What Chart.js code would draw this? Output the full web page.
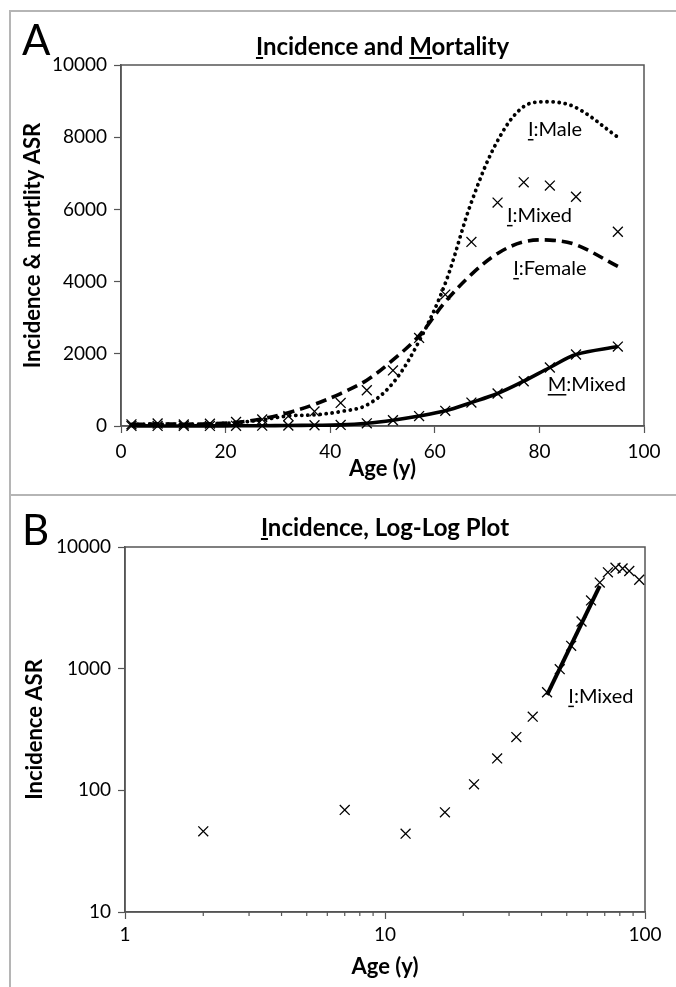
<!DOCTYPE html>
<html>
<head>
<meta charset="utf-8">
<script src="https://cdn.jsdelivr.net/npm/chart.js@4.4.1/dist/chart.umd.min.js"></script>
<style>
  body { margin: 0; background: #fff; }
  #pagina { position: relative; width: 676px; height: 987px; overflow: hidden; font-family: Lato, sans-serif; }
  .linha { position: absolute; background: #b5b5b5; }
  .painel { position: absolute; left: 0; width: 676px; }
  .letra { position: absolute; left: 22px; font-size: 42px; line-height: 1; color: #000; }
</style>
</head>
<body>
<div id="pagina">
  <div class="painel" style="top:0;height:495px"><canvas id="graficoA" width="676" height="495"></canvas></div>
  <div class="painel" style="top:495px;height:492px"><canvas id="graficoB" width="676" height="492"></canvas></div>
  <div class="linha" style="left:9px;top:10px;width:2px;height:977px"></div>
  <div class="linha" style="left:9px;top:10px;width:667px;height:2px"></div>
  <div class="linha" style="left:9px;top:494px;width:667px;height:2px"></div>
  <div class="letra" style="top:18px">A</div>
  <div class="letra" style="top:508px">B</div>
</div>
<script>
// idades (ponto medio das faixas de 5 anos)
const idades = [2, 7, 12, 17, 22, 27, 32, 37, 42, 47, 52, 57, 62, 67, 72, 77, 82, 87, 95];

// incidencia (ambos os sexos) - marcadores x
const incidenciaMista = [46, 69, 44, 66, 112, 183, 274, 403, 640, 990, 1540, 2440, 3640, 5100, 6190, 6750, 6660, 6350, 5380];
// mortalidade (ambos os sexos)
const mortalidadeMista = [3, 2, 2, 3, 5, 8, 14, 20, 30, 75, 160, 275, 420, 650, 900, 1240, 1620, 1980, 2200];
// incidencia masculina
const incidenciaMasc = [40, 55, 40, 60, 95, 170, 280, 310, 400, 580, 1190, 2350, 3950, 6200, 7900, 8850, 8980, 8820, 8000];
// incidencia feminina
const incidenciaFem = [45, 55, 50, 60, 100, 200, 370, 600, 900, 1270, 1830, 2500, 3440, 4200, 4780, 5100, 5150, 5020, 4420];

// reta de ajuste no grafico log-log
const idadesAjuste = [42, 67];
const valoresAjuste = [610, 4800];

// marcas dos eixos
const marcasXA = [0, 20, 40, 60, 80, 100];
const marcasYA = [0, 2000, 4000, 6000, 8000, 10000];
const marcasXB = [1, 2, 3, 4, 5, 6, 7, 8, 9, 10, 20, 30, 40, 50, 60, 70, 80, 90, 100];
const marcasYB = [10, 100, 1000, 10000];
const decadas = [1, 10, 100, 1000, 10000];

const corEixo = "#555";
const fonte = "Lato";

function pontos(xs, ys) {
  let lista = [];
  for (let i = 0; i < xs.length; i++) {
    lista.push({ x: xs[i], y: ys[i] });
  }
  return lista;
}

// desenha titulo, caixa e rotulos com a primeira letra sublinhada
const moldura = {
  id: "moldura",
  beforeDatasetsDraw(chart) {
    const { ctx, chartArea: a } = chart;
    ctx.save();
    ctx.strokeStyle = corEixo;
    ctx.lineWidth = 1.5;
    ctx.strokeRect(a.left, a.top, a.right - a.left, a.bottom - a.top);
    // marcas menores do eixo log
    if (chart.options.plugins.moldura.menores) {
      const xs = chart.scales.x;
      ctx.lineWidth = 1.2;
      xs.ticks.forEach((t) => {
        if (decadas.includes(t.value)) return;
        const px = xs.getPixelForValue(t.value);
        ctx.beginPath();
        ctx.moveTo(px, a.bottom);
        ctx.lineTo(px, a.bottom + 4);
        ctx.stroke();
      });
    }
    ctx.restore();
  },
  afterDraw(chart, args, opts) {
    const { ctx, chartArea: a } = chart;
    ctx.save();
    ctx.fillStyle = "#000";
    ctx.textBaseline = "middle";
    ctx.textAlign = "left";

    ctx.font = "bold 24px " + fonte;
    const w = ctx.measureText(opts.titulo).width;
    const x0 = (a.left + a.right) / 2 - w / 2;
    ctx.fillText(opts.titulo, x0, opts.tituloY);
    opts.sublinhar.forEach((i) => {
      const xi = x0 + ctx.measureText(opts.titulo.slice(0, i)).width;
      const wi = ctx.measureText(opts.titulo[i]).width;
      ctx.fillRect(xi, opts.tituloY + 10, wi, 2);
    });

    ctx.font = "20px " + fonte;
    opts.rotulos.forEach((r) => {
      const px = chart.scales.x.getPixelForValue(r.x);
      const py = chart.scales.y.getPixelForValue(r.y);
      ctx.fillText(r.texto, px, py);
      const wi = ctx.measureText(r.texto[0]).width;
      ctx.fillRect(px, py + 9, wi, 1.5);
    });
    ctx.restore();
  },
};

function eixo(tipo, min, max, marcas, titulo, tituloPad, extra) {
  return Object.assign({
    type: tipo,
    min: min,
    max: max,
    afterBuildTicks: (s) => { s.ticks = marcas.map((v) => ({ value: v })); },
    border: { color: corEixo, width: 1.5 },
    grid: { drawOnChartArea: false, tickLength: 7, tickColor: corEixo, tickWidth: 1.2 },
    ticks: {
      color: "#000", font: { family: fonte, size: 19 }, autoSkip: false, maxRotation: 0, padding: 7,
      callback: (v) => String(v),
    },
    title: { display: true, text: titulo, color: "#000", font: { family: fonte, size: 22, weight: "bold" }, padding: tituloPad },
  }, extra);
}

function plotarGraficoA() {
  const config = {
    type: "scatter",
    data: {
      datasets: [
        {
          data: pontos(idades, incidenciaMasc),
          showLine: true, borderColor: "#000", borderWidth: 3.8,
          borderDash: [0.1, 6], borderCapStyle: "round",
          pointRadius: 0, tension: 0.35, clip: false,
        },
        {
          data: pontos(idades, incidenciaFem),
          showLine: true, borderColor: "#000", borderWidth: 3.6,
          borderDash: [11, 6], pointRadius: 0, tension: 0.35, clip: false,
        },
        {
          data: pontos(idades, mortalidadeMista),
          showLine: true, borderColor: "#000", borderWidth: 3.6,
          pointStyle: "crossRot", pointRadius: 7, pointBorderWidth: 1.3,
          pointBorderColor: "#000", tension: 0.35, clip: false,
        },
        {
          data: pontos(idades, incidenciaMista),
          showLine: false, pointStyle: "crossRot", pointRadius: 7,
          pointBorderWidth: 1.3, pointBorderColor: "#000", clip: false,
        },
      ],
    },
    options: {
      responsive: false,
      animation: false,
      layout: { padding: { left: 0, right: 32, top: 65, bottom: 0 } },
      scales: {
        x: eixo("linear", 0, 100, marcasXA, "Age (y)", { top: 0, bottom: 13 }, {
          afterFit: (s) => { s.height = 69; },
        }),
        y: eixo("linear", 0, 10000, marcasYA, "Incidence & mortlity ASR", { top: 20, bottom: 0 }, {
          afterFit: (s) => { s.width = 121; },
        }),
      },
      plugins: {
        legend: { display: false },
        tooltip: { enabled: false },
        moldura: {
          titulo: "Incidence and Mortality",
          tituloY: 47,
          sublinhar: [0, 14],
          menores: false,
          rotulos: [
            { texto: "I:Male", x: 77.8, y: 8200 },
            { texto: "I:Mixed", x: 73.8, y: 5820 },
            { texto: "I:Female", x: 75, y: 4350 },
            { texto: "M:Mixed", x: 81.6, y: 1135 },
          ],
        },
      },
    },
    plugins: [moldura],
  };
  new Chart(document.getElementById("graficoA"), config);
}

function plotarGraficoB() {
  const config = {
    type: "scatter",
    data: {
      datasets: [
        {
          data: pontos(idadesAjuste, valoresAjuste),
          showLine: true, borderColor: "#000", borderWidth: 4,
          pointRadius: 0, clip: false,
        },
        {
          data: pontos(idades, incidenciaMista),
          showLine: false, pointStyle: "crossRot", pointRadius: 7,
          pointBorderWidth: 1.3, pointBorderColor: "#000", clip: false,
        },
      ],
    },
    options: {
      responsive: false,
      animation: false,
      layout: { padding: { left: 0, right: 31, top: 52, bottom: 0 } },
      scales: {
        x: eixo("logarithmic", 1, 100, marcasXB, "Age (y)", { top: 0, bottom: 7 }, {
          afterFit: (s) => { s.height = 75; },
          ticks: {
            color: "#000", font: { family: fonte, size: 19 }, autoSkip: false, maxRotation: 0, padding: 4,
            callback: (v) => (decadas.includes(v) ? String(v) : ""),
          },
          grid: {
            drawOnChartArea: false, tickLength: 7, tickWidth: 1.2,
            tickColor: (c) => (c.tick && decadas.includes(c.tick.value) ? corEixo : "rgba(0,0,0,0)"),
          },
        }),
        y: eixo("logarithmic", 10, 10000, marcasYB, "Incidence ASR", { top: 22, bottom: 0 }, {
          afterFit: (s) => { s.width = 125; },
        }),
      },
      plugins: {
        legend: { display: false },
        tooltip: { enabled: false },
        moldura: {
          titulo: "Incidence, Log-Log Plot",
          tituloY: 33,
          sublinhar: [0],
          menores: true,
          rotulos: [{ texto: "I:Mixed", x: 50.7, y: 589 }],
        },
      },
    },
    plugins: [moldura],
  };
  new Chart(document.getElementById("graficoB"), config);
}

plotarGraficoA();
plotarGraficoB();
</script>
</body>
</html>
